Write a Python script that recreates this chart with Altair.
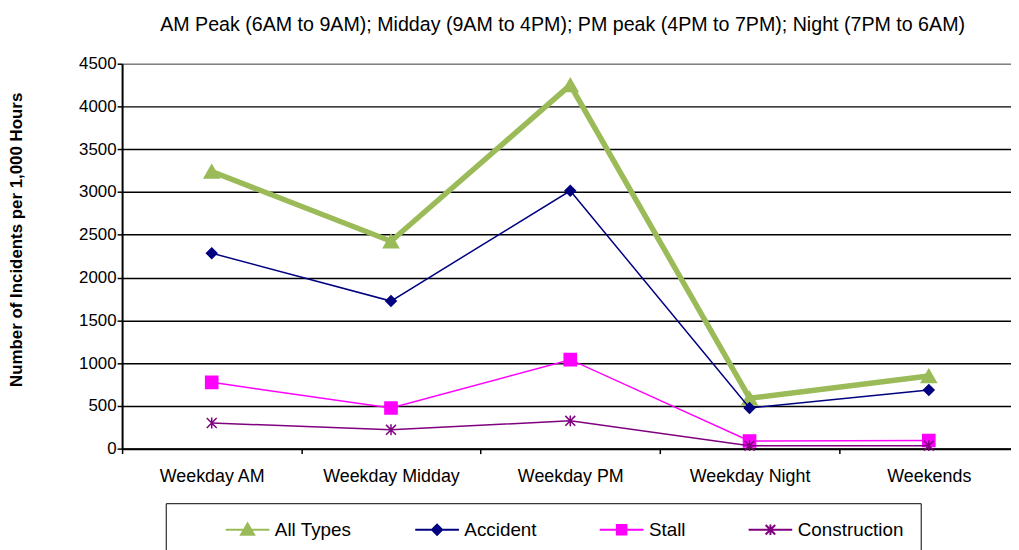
import altair as alt
import pandas as pd

categories = ["Weekday AM", "Weekday Midday", "Weekday PM", "Weekday Night", "Weekends"]
series_names = ["All Types", "Accident", "Stall", "Construction"]
all_types = [3240, 2425, 4250, 590, 850]
accident = [2285, 1725, 3015, 475, 685]
stall = [775, 475, 1040, 90, 95]
construction = [300, 220, 325, 35, 35]
colors = ["#9BBB59", "#000080", "#FF00FF", "#800080"]
y_ticks = [0, 500, 1000, 1500, 2000, 2500, 3000, 3500, 4000, 4500]

title_text = "AM Peak (6AM to 9AM); Midday (9AM to 4PM); PM peak (4PM to 7PM); Night (7PM to 6AM)"
y_title = "Number of Incidents per 1,000 Hours"

values_by_series = [all_types, accident, stall, construction]
rows = []
for name, vals in zip(series_names, values_by_series):
    for cat, v in zip(categories, vals):
        rows.append({"series": name, "category": cat, "value": v})
df = pd.DataFrame(rows)

FONT = "Liberation Sans"
PLOT_H = 388
BAND_RANGE = 903.5

x_enc = alt.X(
    "category:N",
    sort=categories,
    scale=alt.Scale(type="band", paddingInner=0, paddingOuter=0, range=[0, BAND_RANGE]),
    axis=alt.Axis(
        title=None,
        tickBand="extent",
        labelAngle=0,
        labelFont=FONT,
        labelFontSize=18,
        labelColor="black",
        labelPadding=14,
        domainColor="black",
        domainWidth=2,
        tickColor="black",
        tickWidth=1.5,
        tickSize=5,
        grid=False,
    ),
)
y_enc = alt.Y(
    "value:Q",
    scale=alt.Scale(domain=[0, 4500], nice=False),
    axis=alt.Axis(
        values=y_ticks,
        format="d",
        title=y_title,
        titleFont=FONT,
        titleFontSize=17,
        titleFontWeight="bold",
        titleColor="black",
        titleAngle=-90,
        titleX=-106,
        titleY=177,
        titleAlign="center",
        titleBaseline="middle",
        labelFont=FONT,
        labelFontSize=17,
        labelColor="black",
        labelPadding=1,
        domainColor="black",
        domainWidth=2,
        tickColor="black",
        tickWidth=1.5,
        tickSize=5,
        grid=True,
        gridColor={"condition": {"test": "datum.value === 4500", "value": "#808080"}, "value": "black"},
        gridWidth=1.5,
    ),
)

star_path = "M-1,-1L1,1M-1,1L1,-1M0,-1.1V1.1"
marker_defs = [
    dict(shape="triangle-up", size=230, filled=True, width=5.5),
    dict(shape="diamond", size=110, filled=True, width=1.5),
    dict(shape="square", size=150, filled=True, width=1.5),
    dict(shape=star_path, size=100, filled=False, width=1.5),
]

layers = []
for name, col, md in zip(series_names, colors, marker_defs):
    layers.append(
        alt.Chart(df)
        .transform_filter(alt.datum.series == name)
        .mark_line(
            color=col,
            strokeWidth=md["width"],
            point=alt.OverlayMarkDef(
                shape=md["shape"],
                size=md["size"],
                filled=md["filled"],
                color=col,
                fill=col if md["filled"] else "transparent",
                stroke=col,
                strokeWidth=1.5,
                opacity=1,
            ),
        )
        .encode(x=x_enc, y=y_enc)
    )

# legend layer (no visible marks; legend only)
L = 3.67
legend_paths = [
    f"M-{L},0H{L}M0,-1.05L1.1,0.85L-1.1,0.85Z",
    f"M-{L},0H{L}M0,-0.85L0.85,0L0,0.85L-0.85,0Z",
    f"M-{L},0H{L}M-0.8,-0.8H0.8V0.8H-0.8Z",
    f"M-{L},0H{L}M-0.8,-0.8L0.8,0.8M-0.8,0.8L0.8,-0.8M0,-0.9V0.9",
]
legend_def = alt.Legend(
    title=None,
    orient="none",
    legendX=44,
    legendY=443,
    direction="horizontal",
    strokeColor="black",
    padding=17,
    symbolSize=144,
    symbolStrokeWidth=2,
    symbolOffset=56,
    labelOffset=18,
    columnPadding=20,
    labelFont=FONT,
    labelFontSize=19,
    labelColor="black",
    symbolOpacity=1,
)
legend_layer = (
    alt.Chart(df)
    .transform_filter("false")
    .mark_point(filled=True)
    .encode(
        fill=alt.Fill("series:N", scale=alt.Scale(domain=series_names, range=colors), legend=legend_def),
        stroke=alt.Stroke("series:N", scale=alt.Scale(domain=series_names, range=colors), legend=legend_def),
        shape=alt.Shape("series:N", scale=alt.Scale(domain=series_names, range=legend_paths), legend=legend_def),
    )
)
layers.append(legend_layer)

chart = (
    alt.layer(*layers)
    .properties(
        width=896,
        height=PLOT_H,
        autosize=alt.AutoSizeParams(type="none"),
        padding={"left": 115, "top": 54, "right": 0, "bottom": 100},
        title=alt.TitleParams(
            text=title_text,
            font=FONT,
            fontSize=19.8,
            fontWeight="normal",
            color="black",
            anchor="middle",
            dx=-4,
            offset=4,
            baseline="alphabetic",
        ),
    )
    .configure_view(stroke=None)
    .configure(background="white")
)

chart.save("out.html", embed_options={"renderer": "svg", "actions": False})
